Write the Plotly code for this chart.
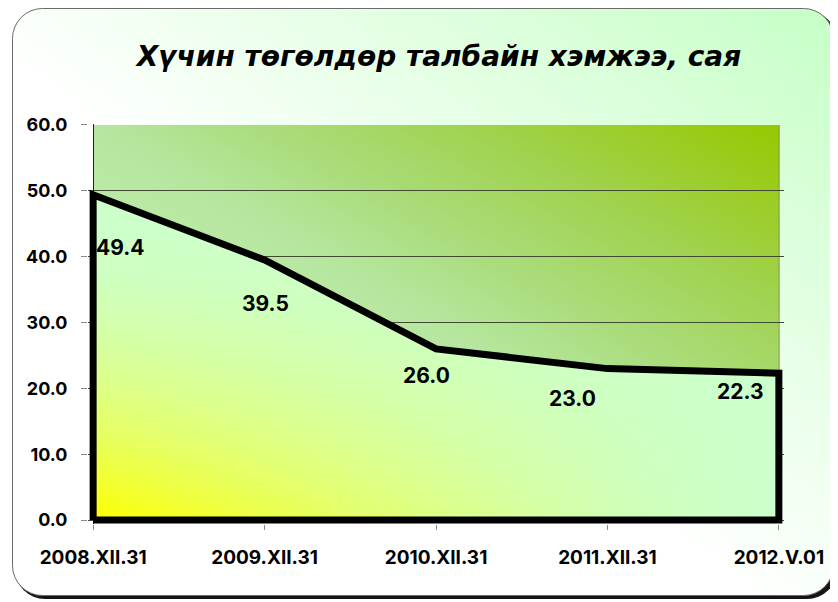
import base64
import plotly.graph_objects as go

# ---------------- data ----------------
categories = ["2008.XII.31", "2009.XII.31", "2010.XII.31", "2011.XII.31", "2012.V.01"]
values = [49.4, 39.5, 26.0, 23.0, 22.3]
y_ticks = [0, 10, 20, 30, 40, 50, 60]
title_text = "Хүчин төгөлдөр талбайн хэмжээ, сая"

# ---------------- layout constants ----------------
# the page body has an 8px margin, so the figure is 8px smaller and shifted
OFF = 8
W, H = 838 - OFF, 602 - OFF
ML, MR, MT, MB = 88 - OFF, 54, 124 - OFF, 78
PW, PH = W - ML - MR, H - MT - MB
X_PAD = 0.03
Y_RANGE = [-0.6, 60.15]
FONT = "Inter, Liberation Sans, Arial, sans-serif"
TITLE_FONT = "DejaVu Sans, Liberation Sans, Arial, sans-serif"

# label offsets (pixels) relative to each data point
label_shift = [(27, -53), (1, -44), (-10, -27), (-35, -30), (-38, -18)]

xpos = list(range(len(categories)))
poly_x = [xpos[0]] + xpos + [xpos[-1], xpos[0]]
poly_y = [0] + values + [0, 0]


def svg_uri(svg):
    return "data:image/svg+xml;base64," + base64.b64encode(svg.encode("utf-8")).decode("ascii")


# outer paper: rounded box with diagonal white->green gradient and shadow
paper_svg = f"""<svg xmlns='http://www.w3.org/2000/svg' width='{W}' height='{H}'>
<defs><linearGradient id='g' x1='0' y1='1' x2='1' y2='0'>
<stop offset='0' stop-color='#ffffff'/><stop offset='0.45' stop-color='#ffffff'/>
<stop offset='1' stop-color='#c6ffc6'/></linearGradient></defs>
<rect width='{W}' height='{H}' fill='#ffffff'/>
<rect x='7' y='3' width='822' height='588' rx='30' ry='30' fill='#151515'/>
<rect x='4.5' y='0.5' width='821' height='587' rx='30' ry='30' fill='url(#g)' stroke='#6a6a6a' stroke-width='1'/>
</svg>"""

# plot area: diagonal green gradient
plot_svg = """<svg xmlns='http://www.w3.org/2000/svg' width='686' height='396'>
<defs><linearGradient id='p' x1='0' y1='1' x2='1' y2='0'>
<stop offset='0' stop-color='#d0f8c8'/><stop offset='0.5' stop-color='#b6e69e'/>
<stop offset='0.62' stop-color='#aadc7c'/><stop offset='0.78' stop-color='#a0d24e'/>
<stop offset='1' stop-color='#97c800'/></linearGradient></defs>
<rect width='686' height='396' fill='url(#p)'/>
</svg>"""

green = (204, 255, 204)


def alpha_scale(fn):
    stops = [0, 0.125, 0.25, 0.375, 0.5, 0.625, 0.75, 0.875, 1]
    return [[s, f"rgba({green[0]},{green[1]},{green[2]},{fn(s):.3f})"] for s in stops]


fig = go.Figure()

# base yellow fill
fig.add_trace(go.Scatter(x=poly_x, y=poly_y, mode="lines", fill="toself",
                         fillcolor="#ffff00", line=dict(width=0), hoverinfo="skip",
                         showlegend=False))
# horizontal green overlay
fig.add_trace(go.Scatter(x=poly_x, y=poly_y, mode="lines", fill="toself",
                         fillgradient=dict(type="horizontal",
                                           colorscale=alpha_scale(lambda u: 1 - (1 - u) ** 1.5)),
                         line=dict(width=0), hoverinfo="skip", showlegend=False))
# vertical green overlay
fig.add_trace(go.Scatter(x=poly_x, y=poly_y, mode="lines", fill="toself",
                         fillgradient=dict(type="vertical",
                                           colorscale=alpha_scale(lambda v: 1 - (1 - v) ** 2)),
                         line=dict(width=0), hoverinfo="skip", showlegend=False))
# thick black outline
fig.add_trace(go.Scatter(x=poly_x, y=poly_y, mode="lines",
                         line=dict(color="#000000", width=7),
                         hoverinfo="skip", showlegend=False))

# right frame edge of the plot area
fig.add_shape(type="line", xref="x", yref="y", x0=xpos[-1], x1=xpos[-1],
              y0=0, y1=y_ticks[-1], line=dict(color="#2e3a1a", width=1), layer="below")

for i, v in enumerate(values):
    dx, dy = label_shift[i]
    fig.add_annotation(x=xpos[i], y=v, text=f"{v:.1f}", showarrow=False,
                       xanchor="center", yanchor="middle", xshift=dx, yshift=dy,
                       font=dict(family=FONT, size=21, color="#000000", weight="bold"))

fig.update_layout(
    width=W, height=H, autosize=False,
    margin=dict(l=ML, r=MR, t=MT, b=MB, pad=0),
    paper_bgcolor="#ffffff",
    plot_bgcolor="rgba(0,0,0,0)",
    title=dict(text=title_text, x=(439 - OFF - ML) / PW, xref="paper",
               y=1 - (56 - OFF) / H, yref="container",
               xanchor="center", yanchor="middle",
               font=dict(family=TITLE_FONT, size=28, color="#000000", weight="bold", style="italic")),
    images=[
        dict(source=svg_uri(paper_svg), xref="paper", yref="paper",
             x=-ML / PW, y=1 + MT / PH, sizex=W / PW, sizey=H / PH,
             xanchor="left", yanchor="top", sizing="stretch", layer="below"),
        dict(source=svg_uri(plot_svg), xref="x", yref="y",
             x=xpos[0], y=y_ticks[-1], sizex=xpos[-1] - xpos[0], sizey=y_ticks[-1],
             xanchor="left", yanchor="top", sizing="stretch", layer="below"),
    ],
    showlegend=False,
)

fig.update_xaxes(
    range=[xpos[0] - X_PAD, xpos[-1] + X_PAD],
    tickvals=xpos, ticktext=categories,
    showgrid=False, showline=False,
    zeroline=True, zerolinecolor="#222222", zerolinewidth=1,
    ticks="outside", ticklen=5, tickcolor="#8a8a8a", tickwidth=1,
    ticklabelstandoff=11,
    tickfont=dict(family=FONT, size=19, color="#000000", weight="bold"),
    fixedrange=True,
)
fig.update_yaxes(
    range=Y_RANGE,
    tickvals=y_ticks, tickformat=".1f",
    showgrid=True, gridcolor="#3f4a30", gridwidth=1,
    zeroline=False, showline=False,
    ticks="outside", ticklen=6, tickcolor="#8a8a8a", tickwidth=1,
    ticklabelstandoff=10,
    tickfont=dict(family=FONT, size=18, color="#000000", weight="bold"),
    fixedrange=True,
)

fig.write_html("out.html")
